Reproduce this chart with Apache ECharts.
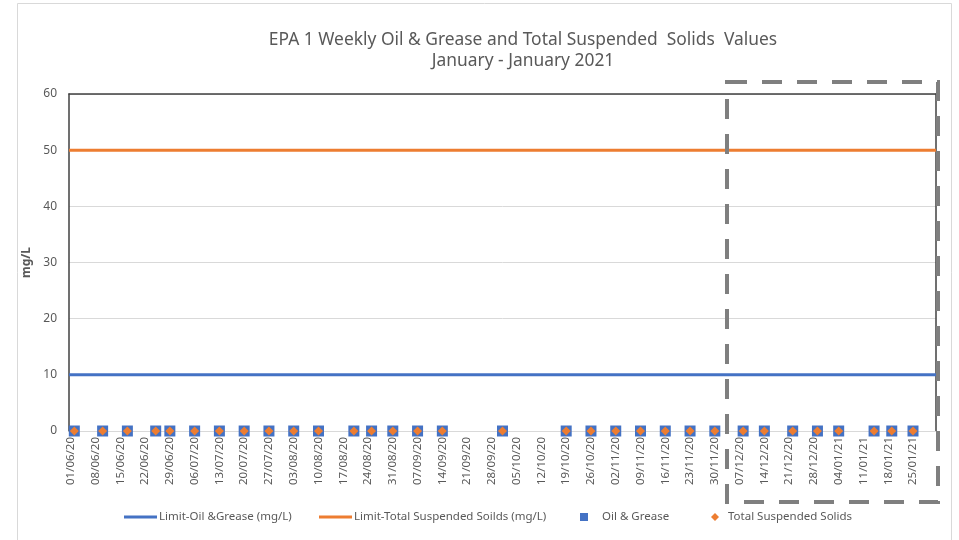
<!DOCTYPE html>
<html>
<head>
<meta charset="utf-8">
<script src="https://cdn.jsdelivr.net/npm/echarts@6/dist/echarts.min.js"></script>
<style>
  html, body { margin: 0; padding: 0; background: #fff; }
  #chart { width: 959px; height: 540px; }
</style>
</head>
<body>
<div id="chart"></div>
<script>
// weekly tick labels on the date axis
var tickLabels = ['01/06/20','08/06/20','15/06/20','22/06/20','29/06/20','06/07/20','13/07/20','20/07/20',
  '27/07/20','03/08/20','10/08/20','17/08/20','24/08/20','31/08/20','07/09/20','14/09/20','21/09/20',
  '28/09/20','05/10/20','12/10/20','19/10/20','26/10/20','02/11/20','09/11/20','16/11/20','23/11/20',
  '30/11/20','07/12/20','14/12/20','21/12/20','28/12/20','04/01/21','11/01/21','18/01/21','25/01/21'];
var axisStart = '01/06/20';
var axisEnd = '31/01/21';

// sampling dates
var sampleDates = ['02/06/20','10/06/20','17/06/20','25/06/20','29/06/20','06/07/20','13/07/20','20/07/20',
  '27/07/20','03/08/20','10/08/20','20/08/20','25/08/20','31/08/20','07/09/20','14/09/20','01/10/20',
  '19/10/20','26/10/20','02/11/20','09/11/20','16/11/20','23/11/20','30/11/20','08/12/20','14/12/20',
  '22/12/20','29/12/20','04/01/21','14/01/21','19/01/21','25/01/21'];
var oilGrease = [0,0,0,0,0,0,0,0,0,0,0,0,0,0,0,0,0,0,0,0,0,0,0,0,0,0,0,0,0,0,0,0];
var tss       = [0,0,0,0,0,0,0,0,0,0,0,0,0,0,0,0,0,0,0,0,0,0,0,0,0,0,0,0,0,0,0,0];

var limitOG = 10;
var limitTSS = 50;

// day number counted from 01/06/20
function dayNo(s) {
  var p = s.split('/');
  return (Date.UTC(2000 + +p[2], +p[1] - 1, +p[0]) - Date.UTC(2020, 5, 1)) / 86400000;
}

var tickDays = tickLabels.map(dayNo);
var xMin = dayNo(axisStart) - 0.5;
var xMax = dayNo(axisEnd) + 0.5;

var labelOf = {};
tickDays.forEach(function (d, i) { labelOf[d] = tickLabels[i]; });

var font = 'Noto Sans';
var grey = '#595959';

var chart = echarts.init(document.getElementById('chart'));
chart.setOption({
  animation: false,
  textStyle: { fontFamily: font },
  title: {
    text: 'EPA 1 Weekly Oil & Grease and Total Suspended  Solids  Values',
    subtext: 'January - January 2021',
    left: 518,
    top: 27,
    textAlign: 'center',
    itemGap: 4,
    textStyle: { fontFamily: font, fontSize: 17.4, fontWeight: 'normal', color: grey },
    subtextStyle: { fontFamily: font, fontSize: 17.4, color: grey }
  },
  grid: { left: 69, right: 23, top: 94, bottom: 109, containLabel: false },
  legend: [
    { data: [{ name: 'Limit-Oil &Grease (mg/L)', icon: 'rect' }], left: 119, top: 506,
      itemWidth: 33, itemHeight: 3, textStyle: { fontSize: 11.5, color: grey, padding: [0, 0, 0, -3] } },
    { data: [{ name: 'Limit-Total Suspended Soilds (mg/L)', icon: 'rect' }], left: 314, top: 506,
      itemWidth: 33, itemHeight: 3, textStyle: { fontSize: 11.5, color: grey, padding: [0, 0, 0, -3] } },
    { data: [{ name: 'Oil & Grease', icon: 'rect' }], left: 575, top: 506, itemWidth: 8, itemHeight: 8,
      textStyle: { fontSize: 11.5, color: grey, padding: [0, 0, 0, 9] } },
    { data: [{ name: 'Total Suspended Solids', icon: 'diamond' }], left: 706, top: 506, itemWidth: 8, itemHeight: 8,
      textStyle: { fontSize: 11.5, color: grey, padding: [0, 0, 0, 4] } }
  ],
  xAxis: [{
    type: 'value',
    min: xMin,
    max: xMax,
    axisLine: { show: true, onZero: false, lineStyle: { color: '#d9d9d9', width: 1 } },
    axisTick: { show: false },
    splitLine: { show: false },
    axisLabel: {
      customValues: tickDays,
      rotate: 90,
      margin: 6,
      fontSize: 11.5,
      color: grey,
      formatter: function (v) { return labelOf[v] || ''; }
    }
  }, {
    type: 'value',
    position: 'top',
    min: xMin,
    max: xMax,
    axisLine: { show: true, onZero: false, lineStyle: { color: '#404040', width: 1.5 } },
    axisTick: { show: false },
    axisLabel: { show: false },
    splitLine: { show: false }
  }],
  yAxis: [{
    type: 'value',
    min: 0,
    max: 60,
    interval: 10,
    name: 'mg/L',
    nameLocation: 'middle',
    nameGap: 31,
    nameTextStyle: { fontSize: 12, fontWeight: 'bold', color: grey },
    axisLine: { show: true, onZero: false, lineStyle: { color: '#404040', width: 1.5 } },
    axisTick: { show: false },
    axisLabel: { fontSize: 12, color: grey, margin: 12 },
    splitLine: { lineStyle: { color: '#d9d9d9', width: 1 } }
  }, {
    type: 'value',
    position: 'right',
    min: 0,
    max: 60,
    interval: 10,
    axisLine: { show: true, onZero: false, lineStyle: { color: '#404040', width: 1.5 } },
    axisTick: { show: false },
    axisLabel: { show: false },
    splitLine: { show: false }
  }],
  series: [{
    name: 'Limit-Oil &Grease (mg/L)',
    type: 'line',
    symbol: 'none',
    color: '#4472C4',
    lineStyle: { width: 3, color: '#4472C4' },
    data: [[xMin, limitOG], [xMax, limitOG]],
    z: 3
  }, {
    name: 'Limit-Total Suspended Soilds (mg/L)',
    type: 'line',
    symbol: 'none',
    color: '#ED7D31',
    lineStyle: { width: 3, color: '#ED7D31' },
    data: [[xMin, limitTSS], [xMax, limitTSS]],
    z: 3
  }, {
    name: 'Oil & Grease',
    type: 'scatter',
    symbol: 'rect',
    symbolSize: 11,
    color: '#4472C4',
    itemStyle: { color: '#4472C4', opacity: 1 },
    data: sampleDates.map(function (d, i) { return [dayNo(d), oilGrease[i]]; }),
    z: 4
  }, {
    name: 'Total Suspended Solids',
    type: 'scatter',
    symbol: 'diamond',
    symbolSize: 9,
    color: '#ED7D31',
    itemStyle: { color: '#ED7D31', opacity: 1 },
    data: sampleDates.map(function (d, i) { return [dayNo(d), tss[i]]; }),
    z: 5
  }],
  graphic: [{
    type: 'rect',
    shape: { x: 17.5, y: 3.5, width: 934, height: 545 },
    style: { fill: 'none', stroke: '#d9d9d9', lineWidth: 1 },
    z: 0
  }, {
    type: 'rect',
    shape: { x: 727, y: 82, width: 211, height: 420 },
    style: { fill: 'none', stroke: '#7f7f7f', lineWidth: 4, lineDash: [20, 15] },
    z: 100
  }]
});
</script>
</body>
</html>
